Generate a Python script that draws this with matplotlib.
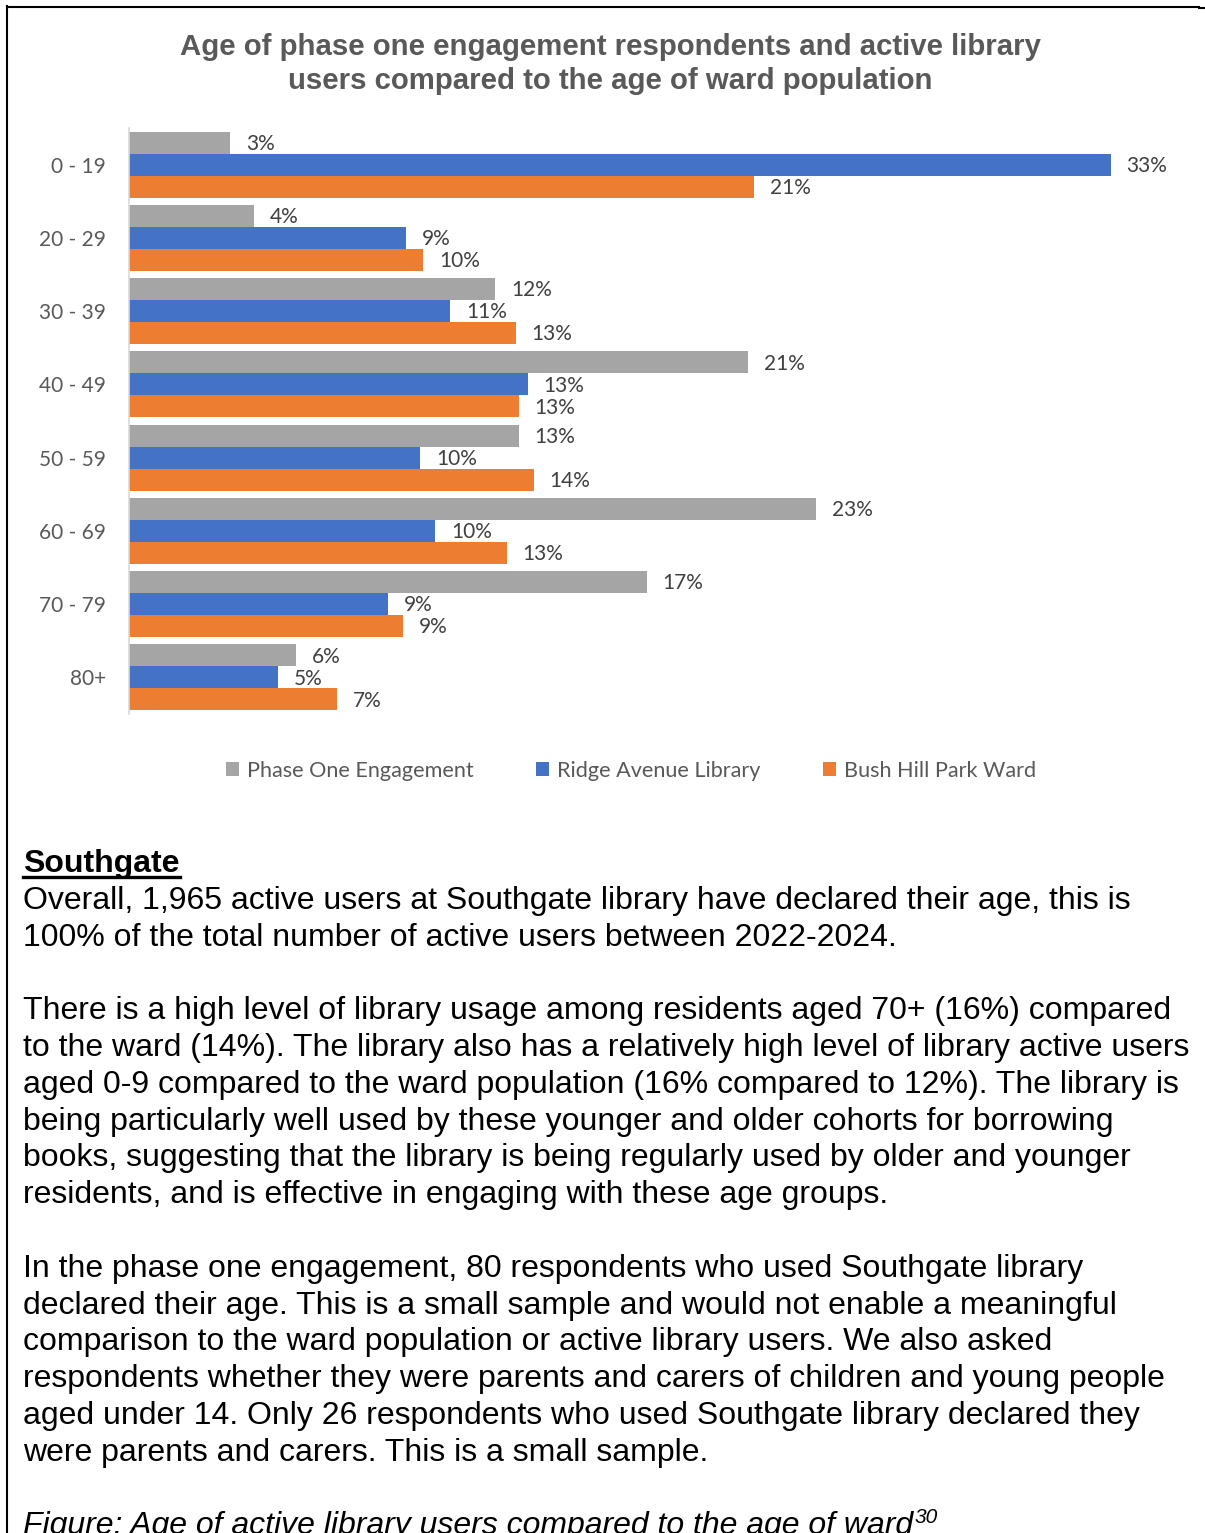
import matplotlib.pyplot as plt
from matplotlib.patches import Patch
from matplotlib.lines import Line2D

W, H = 1205, 1533

age_groups = ['0 - 19', '20 - 29', '30 - 39', '40 - 49', '50 - 59', '60 - 69', '70 - 79', '80+']
phase_one = [3.4, 4.2, 12.3, 20.8, 13.1, 23.1, 17.4, 5.6]
ridge_avenue = [33.0, 9.3, 10.8, 13.4, 9.8, 10.3, 8.7, 5.0]
bush_hill_park = [21.0, 9.9, 13.0, 13.1, 13.6, 12.7, 9.2, 7.0]
series_names = ['Phase One Engagement', 'Ridge Avenue Library', 'Bush Hill Park Ward']
colors = ['#A5A5A5', '#4472C4', '#ED7D31']

title_lines = ['Age of phase one engagement respondents and active library',
               'users compared to the age of ward population']

heading = 'Southgate'
body_lines = [
    'Overall, 1,965 active users at Southgate library have declared their age, this is',
    '100% of the total number of active users between 2022-2024.',
    '',
    'There is a high level of library usage among residents aged 70+ (16%) compared',
    'to the ward (14%). The library also has a relatively high level of library active users',
    'aged 0-9 compared to the ward population (16% compared to 12%). The library is',
    'being particularly well used by these younger and older cohorts for borrowing',
    'books, suggesting that the library is being regularly used by older and younger',
    'residents, and is effective in engaging with these age groups.',
    '',
    'In the phase one engagement, 80 respondents who used Southgate library',
    'declared their age. This is a small sample and would not enable a meaningful',
    'comparison to the ward population or active library users. We also asked',
    'respondents whether they were parents and carers of children and young people',
    'aged under 14. Only 26 respondents who used Southgate library declared they',
    'were parents and carers. This is a small sample.',
    '',
]
caption = 'Figure: Age of active library users compared to the age of ward'
footnote = '30'

chart_font = 'Lato'
doc_font = 'Liberation Sans'
body_size = 23.05


def fx(x):
    return x / W


def fy(y):
    return 1 - y / H


fig = plt.figure(figsize=(W / 100, H / 100), dpi=100)

# page border (left and top rule of the text box)
fig.add_artist(Line2D([fx(7.5), fx(7.5)], [fy(6), fy(H)], color='black', lw=1.5))
fig.add_artist(Line2D([fx(7), fx(1199)], [fy(6.5), fy(6.5)], color='black', lw=1.5))
fig.add_artist(Line2D([fx(1199), fx(1205)], [fy(8), fy(8)], color='black', lw=1.5))

# chart title
for i, line in enumerate(title_lines):
    fig.text(fx(610), fy(55 + 34 * i), line, ha='center', va='baseline',
             fontsize=21.2, fontweight='bold', color='#595959', family=doc_font)

# horizontal grouped bars
ax = fig.add_axes([fx(129), fy(714), fx(1041), 586 / H])
bar_h = 0.3
for j, (vals, color) in enumerate(zip([phase_one, ridge_avenue, bush_hill_park], colors)):
    off = (j - 1) * bar_h
    ys = [i + off for i in range(len(age_groups))]
    ax.barh(ys, vals, height=bar_h, color=color)
    for y, v in zip(ys, vals):
        ax.annotate(f'{v:.0f}%', xy=(v, y), xytext=(11.5, -5.2), textcoords='offset points',
                    ha='left', va='baseline', fontsize=15, color='#404040', family=chart_font)

ax.set_xlim(0, 35)
ax.set_ylim(len(age_groups) - 0.5, -0.5)
ax.set_xticks([])
ax.set_yticks(range(len(age_groups)))
ax.set_yticklabels(age_groups, fontsize=15, color='#595959', family=chart_font)
ax.tick_params(axis='y', length=0, pad=16.5)
for side in ['top', 'right', 'bottom']:
    ax.spines[side].set_visible(False)
ax.spines['left'].set_color('#D9D9D9')
ax.spines['left'].set_linewidth(1.2)

handles = [Patch(facecolor=c, edgecolor='none') for c in colors]
fig.legend(handles, series_names, loc='center', bbox_to_anchor=(fx(631), fy(771)), ncol=3,
           frameon=False, prop={'family': chart_font, 'size': 15.6}, labelcolor='#595959',
           handlelength=0.6, handleheight=0.6, handletextpad=0.35, columnspacing=2.9)

# document text below the chart
pitch = 36.8
base0 = 872
head = fig.text(fx(23), fy(base0), heading, ha='left', va='baseline', fontsize=body_size,
                fontweight='bold', color='black', family=doc_font)
for k, line in enumerate(body_lines, start=1):
    if line:
        fig.text(fx(23), fy(base0 + pitch * k), line, ha='left', va='baseline',
                 fontsize=body_size, color='black', family=doc_font)
cap_y = base0 + pitch * (len(body_lines) + 1)
cap = fig.text(fx(23), fy(cap_y), caption, ha='left', va='baseline', fontsize=body_size,
               style='italic', color='black', family=doc_font)

fig.canvas.draw()
renderer = fig.canvas.get_renderer()
hb = head.get_window_extent(renderer)
fig.add_artist(Line2D([hb.x0 / W, hb.x1 / W], [fy(base0 + 5), fy(base0 + 5)],
                      color='black', lw=2.4))
cb = cap.get_window_extent(renderer)
fig.text(cb.x1 / W + 0.001, fy(cap_y - 11), footnote, ha='left', va='baseline',
         fontsize=15, style='italic', color='black', family=doc_font)

fig.savefig('out.png', dpi=100)
